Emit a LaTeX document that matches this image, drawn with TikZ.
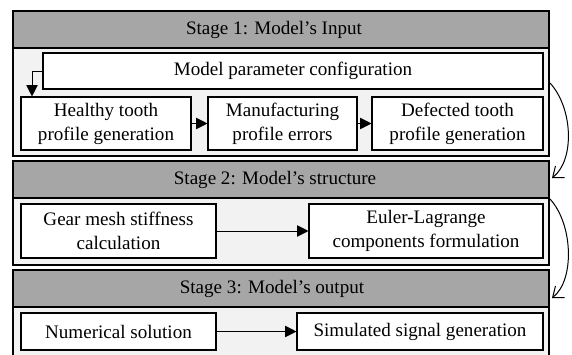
\documentclass[tikz,border=0pt]{standalone}
\usepackage{fontspec}
\setmainfont{Liberation Serif}
\usetikzlibrary{arrows.meta,positioning}
\def\px{0.75pt}
\definecolor{headgray}{HTML}{A6A6A6}
\definecolor{bodygray}{HTML}{F2F2F2}
\tikzstyle{stagebody}=[draw,fill=bodygray,line width=0.9pt,inner sep=0pt]
\tikzstyle{stagehead}=[draw,fill=headgray,line width=0.9pt,inner sep=0pt]
\tikzstyle{stepbox}=[draw,fill=white,line width=0.8pt,align=center,inner sep=0pt]
\tikzstyle{flow}=[line width=0.75pt,-{Triangle[length=8.5pt,width=8.5pt]}]
\tikzstyle{link}=[line width=0.75pt,-{Straight Barb[length=7pt,width=11pt]}]

\begin{document}
\begin{tikzpicture}[x=\px,y=-\px,font=\rmfamily\fontsize{14.3}{18}\selectfont]
    \useasboundingbox (0,0) rectangle (572,354);
    % stage frames
    \node [stagebody,minimum width=536*\px,minimum height=108*\px] (bodyone) at (281,102) {};
    \node [stagehead,minimum width=536*\px,minimum height=37*\px] (headone) at (281,29.5) {};
    \node (titleone) at (274,29.5) {Stage 1: Model's Input};
    \node [stagebody,minimum width=536*\px,minimum height=67*\px] (bodytwo) at (281,231.5) {};
    \node [stagehead,minimum width=536*\px,minimum height=37*\px] (headtwo) at (281,179.5) {};
    \node (titletwo) at (275,179.5) {Stage 2: Model's structure};
    \node [stagebody,minimum width=536*\px,minimum height=51*\px] (bodythree) at (281,332.5) {};
    \node [stagehead,minimum width=536*\px,minimum height=37*\px] (headthree) at (281,288.5) {};
    \node (titlethree) at (272,288.5) {Stage 3: Model's output};

    % stage 1
    \node [stepbox,minimum width=500*\px,minimum height=36*\px] (param) at (293,71) {Model parameter configuration};
    \node [stepbox,minimum width=170*\px,minimum height=53*\px] (healthy) at (106,123.5) {Healthy tooth\\profile generation};
    \node [stepbox,minimum width=149*\px,minimum height=53*\px] (manuf) at (282.5,123.5) {Manufacturing\\profile errors};
    \node [stepbox,minimum width=171*\px,minimum height=53*\px] (defect) at (457.5,123.5) {Defected tooth\\profile generation};
    \coordinate (bend) at (32,71);
    \draw [flow] (param.west) -- (bend) -- (bend |- healthy.north);
    \draw [flow] (healthy) -- (manuf);
    \draw [flow] (manuf) -- (defect);

    % stage 2
    \node [stepbox,minimum width=195*\px,minimum height=54*\px] (gear) at (118.5,231) {Gear mesh stiffness\\calculation};
    \node [stepbox,minimum width=234*\px,minimum height=54*\px] (euler) at (426,231) {Euler-Lagrange\\components formulation};
    \draw [flow] (gear) -- (euler);

    % stage 3
    \node [stepbox,minimum width=195*\px,minimum height=37*\px] (numer) at (118.5,331.5) {Numerical solution};
    \node [stepbox,minimum width=246*\px,minimum height=37*\px] (simul) at (420,331.5) {Simulated signal generation};
    \draw [flow] (numer) -- (simul);

    % hand-over between stages
    \coordinate (outone) at (550,83);
    \coordinate (intwo) at (552,178);
    \coordinate (outtwo) at (550,199);
    \coordinate (inthree) at (552,298);
    \draw [link] (outone) .. controls (573,108) and (575,160) .. (intwo);
    \draw [link] (outtwo) .. controls (573,224) and (575,280) .. (inthree);
\end{tikzpicture}
\end{document}
